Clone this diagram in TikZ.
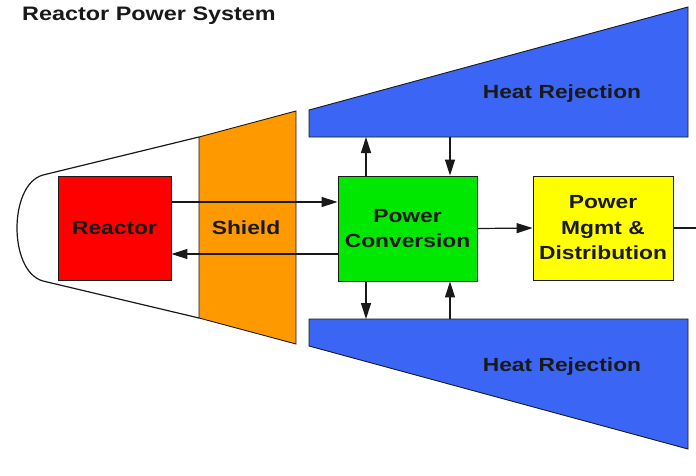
\documentclass[tikz,border=0pt]{standalone}
\usepackage{fontspec}
\setmainfont{Liberation Sans}[FakeStretch=1.2]
\usetikzlibrary{arrows.meta}
\definecolor{rred}{RGB}{255,0,0}
\definecolor{rorange}{RGB}{255,153,0}
\definecolor{rgreen}{RGB}{0,232,0}
\definecolor{ryellow}{RGB}{255,255,0}
\definecolor{rblue}{RGB}{59,102,245}
\definecolor{ink}{RGB}{25,25,25}
\tikzset{
  box/.style={draw=ink, line width=0.9pt, inner sep=0pt, align=center,
    font=\fontsize{19}{25.5}\selectfont\bfseries, text=ink},
  shape outline/.style={draw=ink, line width=0.9pt},
  lbl/.style={inner sep=0pt, font=\fontsize{19}{25.5}\selectfont\bfseries, text=ink},
  arr/.style={draw=ink, line width=1.2pt, -{Triangle[length=16pt,width=10pt]}},
  plain/.style={draw=ink, line width=1.2pt}
}
\begin{document}
\begin{tikzpicture}[x=1pt,y=-1pt]
\useasboundingbox[fill=white] (0,0) rectangle (696,475);
% title
\node[lbl, anchor=west, font=\fontsize{19.5}{24}\selectfont\bfseries] (title) at (22,16) {Reactor Power System};
% capsule outline
\draw[shape outline, line width=1.2pt] (199,137) -- (43,175) .. controls (25,180) and (17,205) .. (17,228)
  .. controls (17,251) and (25,276) .. (43,281) -- (199,318);
% shield
\draw[shape outline, fill=rorange] (199,137) -- (296,111) -- (296,344) -- (199,318) -- cycle;
\node[lbl] (shield) at (246,228) {Shield};
% heat rejection top
\draw[shape outline, fill=rblue] (309,110) -- (688,7) -- (688,137) -- (309,137) -- cycle;
\node[lbl] (hrtop) at (562,94) {Heat Rejection};
% heat rejection bottom
\draw[shape outline, fill=rblue] (309,319) -- (688,319) -- (688,449) -- (309,346) -- cycle;
\node[lbl] (hrbot) at (562,367) {Heat Rejection};
% boxes
\node[box, fill=rred, minimum width=113pt, minimum height=104pt] (reactor) at (114.5,228) {Reactor};
\node[box, fill=rgreen, minimum width=139pt, minimum height=105pt] (pc) at (407.5,228.5) {Power\\Conversion};
\node[box, fill=ryellow, minimum width=140pt, minimum height=104pt] (pmd) at (603,228) {Power\\Mgmt \&\\Distribution};
% coordinates
\coordinate (t1) at (366,137);
\coordinate (t2) at (450,137);
\coordinate (b1) at (366,319);
\coordinate (b2) at (450,319);
\coordinate (out) at (696,228);
% connectors
\draw[arr] ([yshift=26pt]reactor.east) -- ([yshift=26pt]reactor.east -| pc.west);
\draw[arr] ([yshift=-26pt]reactor.east -| pc.west) -- ([yshift=-26pt]reactor.east);
\draw[arr] (pc.east) -- (pmd.west);
\draw[plain] (pmd.east) -- (out);
\draw[arr] (pc.north -| t1) -- (t1);
\draw[arr] (t2) -- (pc.north -| t2);
\draw[arr] (pc.south -| b1) -- (b1);
\draw[arr] (b2) -- (pc.south -| b2);
\end{tikzpicture}
\end{document}
